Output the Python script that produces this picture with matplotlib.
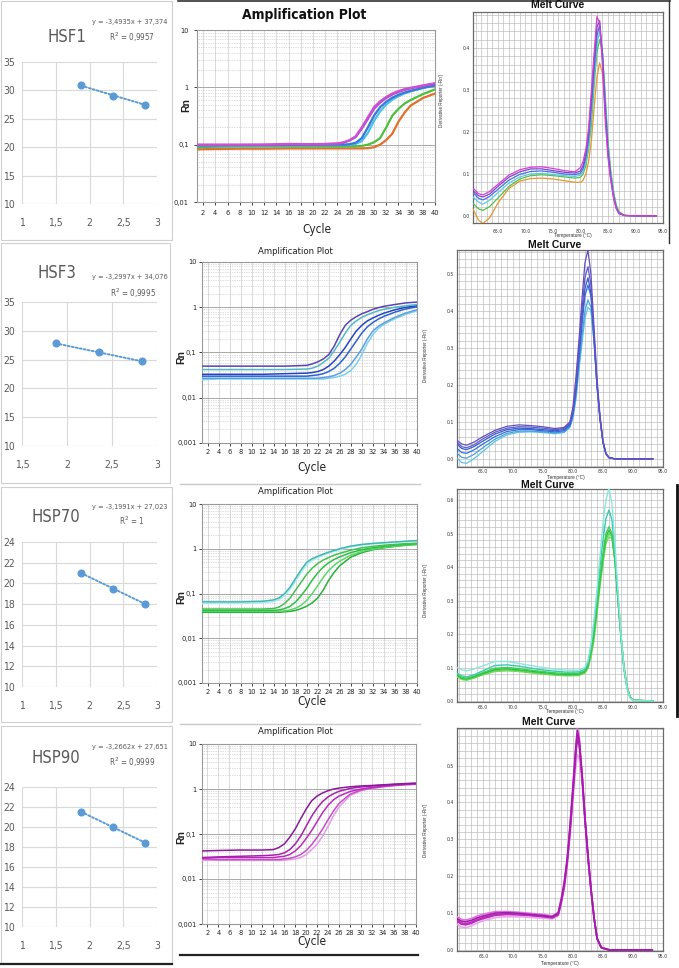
import numpy as np
import matplotlib
matplotlib.use('Agg')
import matplotlib.pyplot as plt
from matplotlib import font_manager
from matplotlib.ticker import FixedLocator, MultipleLocator, NullFormatter
from matplotlib.lines import Line2D
from matplotlib.patches import Rectangle

W, H = 679, 968

installed = {f.name for f in font_manager.fontManager.ttflist}
if 'Liberation Sans Narrow' in installed:
    NARROW = dict(family='Liberation Sans Narrow')
else:
    NARROW = dict(family='DejaVu Sans', stretch='condensed')
ARIAL = 'Liberation Sans' if 'Liberation Sans' in installed else 'DejaVu Sans'

# ---------------- standard curves ----------------
genes = ['HSF1', 'HSF3', 'HSP70', 'HSP90']
std_x = [1.875, 2.352, 2.829]
std_ct = [
    [30.9, 29.0, 27.5],
    [27.8, 26.3, 24.7],
    [21.0, 19.5, 18.0],
    [21.5, 20.0, 18.4],
]
std_eq = ['y = -3,4935x + 37,374', 'y = -3,2997x + 34,076',
          'y = -3,1991x + 27,023', 'y = -3,2662x + 27,651']
std_r2 = ['R$^2$ = 0,9957', 'R$^2$ = 0,9995', 'R$^2$ = 1', 'R$^2$ = 0,9999']
std_xticks = [[1, 1.5, 2, 2.5, 3], [1.5, 2, 2.5, 3], [1, 1.5, 2, 2.5, 3], [1, 1.5, 2, 2.5, 3]]
std_yticks = [[10, 15, 20, 25, 30, 35], [10, 15, 20, 25, 30, 35],
              [10, 12, 14, 16, 18, 20, 22, 24], [10, 12, 14, 16, 18, 20, 22, 24]]

# ---------------- amplification plots (Rn per cycle) ----------------
amp1_cycles = [1, 4, 8, 12, 16, 20, 22, 24, 25, 26, 27, 28, 29, 30, 31, 32, 33, 34, 35, 36, 38, 40]
amp1_rn = [
    [0.1, 0.1, 0.1, 0.1, 0.103, 0.102, 0.103, 0.105, 0.11, 0.12, 0.14, 0.2, 0.3, 0.45, 0.57, 0.68, 0.78, 0.86, 0.93, 0.98, 1.08, 1.18],
    [0.099, 0.099, 0.099, 0.1, 0.101, 0.101, 0.102, 0.104, 0.108, 0.118, 0.135, 0.19, 0.28, 0.42, 0.54, 0.65, 0.75, 0.83, 0.9, 0.96, 1.06, 1.16],
    [0.097, 0.097, 0.098, 0.098, 0.099, 0.099, 0.1, 0.1, 0.1, 0.102, 0.108, 0.13, 0.2, 0.32, 0.45, 0.56, 0.66, 0.74, 0.81, 0.87, 0.98, 1.08],
    [0.095, 0.095, 0.096, 0.096, 0.097, 0.097, 0.098, 0.098, 0.098, 0.099, 0.103, 0.115, 0.16, 0.26, 0.38, 0.5, 0.61, 0.7, 0.78, 0.85, 0.97, 1.07],
    [0.09, 0.092, 0.093, 0.093, 0.093, 0.093, 0.093, 0.093, 0.093, 0.094, 0.094, 0.095, 0.1, 0.11, 0.13, 0.2, 0.32, 0.42, 0.52, 0.6, 0.76, 0.92],
    [0.083, 0.084, 0.085, 0.085, 0.086, 0.086, 0.086, 0.086, 0.086, 0.086, 0.086, 0.086, 0.087, 0.09, 0.1, 0.12, 0.155, 0.25, 0.36, 0.48, 0.65, 0.78],
]
amp1_colors = ['#cf4fcf', '#a050d8', '#3a78d8', '#48c0e8', '#4cbf3c', '#e0702a']

amp2_cycles = [1, 4, 8, 12, 16, 20, 21, 22, 23, 24, 25, 26, 27, 28, 29, 30, 31, 32, 33, 34, 36, 38, 40]
amp2_rn = [
    [0.05, 0.05, 0.05, 0.05, 0.05, 0.052, 0.056, 0.062, 0.072, 0.09, 0.14, 0.25, 0.4, 0.52, 0.62, 0.72, 0.8, 0.9, 0.98, 1.05, 1.15, 1.25, 1.3],
    [0.042, 0.042, 0.042, 0.042, 0.042, 0.043, 0.045, 0.05, 0.06, 0.075, 0.11, 0.17, 0.27, 0.4, 0.5, 0.6, 0.68, 0.76, 0.84, 0.9, 1.0, 1.08, 1.15],
    [0.033, 0.033, 0.033, 0.033, 0.034, 0.035, 0.036, 0.038, 0.042, 0.05, 0.065, 0.09, 0.13, 0.2, 0.3, 0.4, 0.5, 0.58, 0.66, 0.74, 0.88, 1.0, 1.08],
    [0.03, 0.03, 0.03, 0.03, 0.03, 0.03, 0.031, 0.032, 0.034, 0.038, 0.045, 0.058, 0.08, 0.12, 0.18, 0.27, 0.37, 0.46, 0.55, 0.63, 0.78, 0.92, 1.02],
    [0.027, 0.027, 0.027, 0.027, 0.027, 0.027, 0.027, 0.027, 0.028, 0.029, 0.031, 0.035, 0.042, 0.055, 0.08, 0.12, 0.2, 0.3, 0.38, 0.45, 0.6, 0.75, 0.88],
    [0.025, 0.026, 0.026, 0.026, 0.026, 0.026, 0.026, 0.026, 0.026, 0.027, 0.028, 0.03, 0.033, 0.04, 0.055, 0.09, 0.16, 0.25, 0.34, 0.42, 0.56, 0.7, 0.84],
]
amp2_colors = ['#5b44b0', '#52b8c8', '#2246c0', '#2e62d0', '#5a9fe0', '#7dd0f0']

amp3_cycles = [1, 4, 8, 12, 14, 15, 16, 17, 18, 19, 20, 21, 22, 23, 24, 25, 26, 28, 30, 32, 34, 36, 38, 40]
amp3_rn = [
    [0.065, 0.065, 0.065, 0.067, 0.072, 0.08, 0.1, 0.14, 0.22, 0.34, 0.5, 0.6, 0.68, 0.76, 0.84, 0.92, 1.0, 1.15, 1.25, 1.32, 1.37, 1.42, 1.47, 1.52],
    [0.06, 0.06, 0.06, 0.062, 0.066, 0.073, 0.09, 0.125, 0.19, 0.3, 0.44, 0.55, 0.64, 0.72, 0.8, 0.88, 0.95, 1.1, 1.2, 1.28, 1.34, 1.4, 1.45, 1.5],
    [0.045, 0.045, 0.045, 0.045, 0.046, 0.05, 0.06, 0.08, 0.12, 0.18, 0.27, 0.37, 0.47, 0.56, 0.64, 0.72, 0.79, 0.93, 1.05, 1.13, 1.2, 1.25, 1.3, 1.33],
    [0.042, 0.042, 0.042, 0.042, 0.042, 0.043, 0.046, 0.052, 0.065, 0.09, 0.13, 0.2, 0.29, 0.39, 0.49, 0.58, 0.66, 0.82, 0.95, 1.05, 1.13, 1.2, 1.25, 1.3],
    [0.04, 0.04, 0.04, 0.04, 0.04, 0.04, 0.041, 0.043, 0.047, 0.055, 0.07, 0.1, 0.15, 0.23, 0.33, 0.43, 0.53, 0.72, 0.87, 0.98, 1.07, 1.14, 1.2, 1.25],
    [0.038, 0.038, 0.038, 0.038, 0.038, 0.038, 0.039, 0.04, 0.042, 0.046, 0.052, 0.062, 0.08, 0.12, 0.2, 0.3, 0.42, 0.65, 0.82, 0.95, 1.05, 1.13, 1.2, 1.25],
]
amp3_colors = ['#3cb8b0', '#a8ecf2', '#44c050', '#2cc040', '#58d868', '#28b038']

amp4_cycles = [1, 4, 8, 12, 14, 15, 16, 17, 18, 19, 20, 21, 22, 23, 24, 25, 26, 28, 30, 32, 34, 36, 38, 40]
amp4_rn = [
    [0.042, 0.043, 0.044, 0.044, 0.045, 0.05, 0.06, 0.085, 0.13, 0.22, 0.36, 0.55, 0.7, 0.82, 0.92, 1.0, 1.05, 1.12, 1.17, 1.2, 1.24, 1.28, 1.32, 1.35],
    [0.03, 0.031, 0.032, 0.033, 0.034, 0.035, 0.038, 0.045, 0.06, 0.09, 0.15, 0.25, 0.38, 0.53, 0.67, 0.79, 0.89, 1.03, 1.11, 1.17, 1.22, 1.26, 1.3, 1.33],
    [0.029, 0.03, 0.03, 0.03, 0.03, 0.031, 0.032, 0.035, 0.042, 0.055, 0.08, 0.12, 0.19, 0.3, 0.44, 0.58, 0.7, 0.88, 1.0, 1.09, 1.16, 1.22, 1.27, 1.3],
    [0.028, 0.027, 0.027, 0.027, 0.027, 0.027, 0.028, 0.029, 0.031, 0.035, 0.043, 0.058, 0.085, 0.13, 0.21, 0.33, 0.48, 0.77, 0.95, 1.05, 1.13, 1.2, 1.25, 1.28],
    [0.026, 0.026, 0.026, 0.026, 0.026, 0.026, 0.026, 0.027, 0.028, 0.03, 0.035, 0.045, 0.06, 0.09, 0.15, 0.26, 0.4, 0.72, 0.92, 1.03, 1.11, 1.18, 1.23, 1.27],
]
amp4_colors = ['#8b1a9b', '#a81fb0', '#bb2abb', '#c84ccc', '#e49ae8']

# ---------------- melt curves (derivative reporter per temperature) ----------------
melt1_t = [60.5, 61.5, 62.3, 63.5, 65, 67, 69, 71, 73, 75, 77, 79, 80, 80.5, 81, 81.5, 82, 82.5, 83, 83.5,
           84, 84.5, 85, 85.5, 86, 86.5, 87, 88, 90, 93.8]
melt1_d = [
    [0.066, 0.053, 0.05, 0.058, 0.075, 0.097, 0.11, 0.116, 0.117, 0.113, 0.108, 0.105, 0.115, 0.13, 0.16, 0.21, 0.3, 0.39, 0.475, 0.46,
     0.36, 0.23, 0.14, 0.085, 0.045, 0.018, 0.005, 0.001, 0.0, 0.0],
    [0.06, 0.048, 0.045, 0.052, 0.07, 0.092, 0.105, 0.112, 0.112, 0.108, 0.104, 0.102, 0.107, 0.12, 0.15, 0.2, 0.28, 0.37, 0.45, 0.465,
     0.38, 0.25, 0.15, 0.09, 0.045, 0.018, 0.006, 0.001, 0.0, 0.0],
    [0.055, 0.042, 0.038, 0.046, 0.063, 0.085, 0.099, 0.106, 0.107, 0.104, 0.1, 0.098, 0.102, 0.113, 0.14, 0.185, 0.26, 0.35, 0.43, 0.455,
     0.39, 0.27, 0.16, 0.095, 0.05, 0.02, 0.007, 0.001, 0.0, 0.0],
    [0.045, 0.033, 0.028, 0.037, 0.055, 0.078, 0.093, 0.1, 0.101, 0.099, 0.096, 0.094, 0.097, 0.106, 0.13, 0.17, 0.24, 0.33, 0.41, 0.44,
     0.39, 0.28, 0.17, 0.1, 0.055, 0.022, 0.008, 0.001, 0.0, 0.0],
    [0.03, 0.017, 0.013, 0.022, 0.042, 0.07, 0.088, 0.096, 0.098, 0.096, 0.093, 0.09, 0.092, 0.1, 0.12, 0.16, 0.22, 0.31, 0.39, 0.42,
     0.39, 0.29, 0.18, 0.11, 0.06, 0.026, 0.01, 0.001, 0.0, 0.0],
    [0.016, -0.01, -0.018, -0.005, 0.03, 0.065, 0.083, 0.089, 0.09, 0.088, 0.084, 0.08, 0.08, 0.085, 0.1, 0.13, 0.18, 0.26, 0.33, 0.365,
     0.34, 0.26, 0.17, 0.1, 0.055, 0.025, 0.01, 0.001, 0.0, 0.0],
]
melt1_colors = ['#d63fd6', '#7a45c8', '#4a6fe0', '#5cc8e6', '#4cc24c', '#e8952e']

melt2_t = [60.7, 61.5, 62.3, 63.5, 65, 67, 69, 71, 73, 75, 77, 78.5, 79.5, 80, 80.5, 81, 81.5, 82, 82.5, 83,
           83.5, 84, 84.5, 85, 85.5, 86, 87, 90, 93.3]
melt2_d = [
    [0.05, 0.04, 0.037, 0.045, 0.06, 0.077, 0.088, 0.092, 0.09, 0.087, 0.082, 0.085, 0.1, 0.14, 0.22, 0.32, 0.43, 0.53, 0.565, 0.5,
     0.36, 0.22, 0.12, 0.05, 0.015, 0.004, 0.0, 0.0, 0.0],
    [0.045, 0.033, 0.03, 0.038, 0.054, 0.072, 0.083, 0.087, 0.086, 0.083, 0.079, 0.082, 0.097, 0.13, 0.2, 0.3, 0.4, 0.49, 0.52, 0.47,
     0.34, 0.21, 0.11, 0.045, 0.013, 0.003, 0.0, 0.0, 0.0],
    [0.04, 0.028, 0.025, 0.033, 0.048, 0.067, 0.079, 0.083, 0.082, 0.079, 0.076, 0.079, 0.094, 0.125, 0.19, 0.28, 0.38, 0.46, 0.49, 0.45,
     0.33, 0.2, 0.11, 0.045, 0.013, 0.003, 0.0, 0.0, 0.0],
    [0.028, 0.017, 0.015, 0.024, 0.04, 0.06, 0.074, 0.079, 0.079, 0.076, 0.073, 0.076, 0.09, 0.12, 0.18, 0.27, 0.36, 0.44, 0.47, 0.44,
     0.33, 0.2, 0.11, 0.045, 0.014, 0.003, 0.0, 0.0, 0.0],
    [0.015, 0.004, 0.002, 0.012, 0.03, 0.053, 0.069, 0.075, 0.075, 0.073, 0.07, 0.073, 0.087, 0.115, 0.17, 0.25, 0.33, 0.4, 0.43, 0.41,
     0.32, 0.2, 0.11, 0.046, 0.015, 0.004, 0.0, 0.0, 0.0],
    [0.002, -0.01, -0.012, 0.0, 0.02, 0.047, 0.065, 0.072, 0.073, 0.071, 0.068, 0.071, 0.085, 0.11, 0.16, 0.24, 0.31, 0.38, 0.41, 0.4,
     0.32, 0.2, 0.11, 0.047, 0.015, 0.004, 0.0, 0.0, 0.0],
]
melt2_colors = ['#6a4cc0', '#5560c8', '#3a5ad0', '#2f6fd8', '#4aa0e0', '#5cc4e8']

melt3_t = [60.7, 61.5, 62.3, 63.5, 65, 67, 69, 71, 73, 75, 77, 79, 81, 82, 82.5, 83, 83.5, 84, 84.5, 85,
           85.5, 86, 86.5, 87, 87.5, 88, 88.5, 89, 89.5, 90, 93.3]
melt3_d = [
    [0.1, 0.093, 0.09, 0.095, 0.105, 0.118, 0.118, 0.112, 0.106, 0.1, 0.095, 0.092, 0.092, 0.1, 0.12, 0.17, 0.24, 0.33, 0.43, 0.53,
     0.6, 0.635, 0.59, 0.47, 0.33, 0.2, 0.1, 0.04, 0.01, 0.002, 0.0],
    [0.083, 0.075, 0.072, 0.078, 0.09, 0.106, 0.108, 0.104, 0.098, 0.093, 0.089, 0.086, 0.087, 0.095, 0.115, 0.16, 0.23, 0.31, 0.4, 0.48,
     0.545, 0.57, 0.54, 0.44, 0.31, 0.19, 0.095, 0.04, 0.01, 0.002, 0.0],
    [0.08, 0.07, 0.068, 0.074, 0.085, 0.098, 0.1, 0.097, 0.092, 0.088, 0.084, 0.082, 0.083, 0.09, 0.11, 0.15, 0.21, 0.29, 0.37, 0.44,
     0.5, 0.52, 0.5, 0.42, 0.3, 0.19, 0.095, 0.04, 0.011, 0.002, 0.0],
    [0.078, 0.068, 0.066, 0.072, 0.082, 0.094, 0.096, 0.093, 0.089, 0.085, 0.081, 0.079, 0.08, 0.088, 0.105, 0.145, 0.2, 0.28, 0.36, 0.43,
     0.49, 0.51, 0.495, 0.42, 0.3, 0.19, 0.1, 0.042, 0.012, 0.002, 0.0],
    [0.075, 0.066, 0.064, 0.07, 0.08, 0.091, 0.093, 0.09, 0.086, 0.082, 0.079, 0.077, 0.078, 0.086, 0.1, 0.14, 0.19, 0.27, 0.35, 0.42,
     0.48, 0.5, 0.49, 0.42, 0.31, 0.2, 0.1, 0.045, 0.013, 0.003, 0.0],
    [0.072, 0.064, 0.062, 0.068, 0.078, 0.088, 0.09, 0.088, 0.084, 0.08, 0.077, 0.075, 0.076, 0.083, 0.097, 0.13, 0.18, 0.26, 0.34, 0.41,
     0.47, 0.49, 0.485, 0.42, 0.31, 0.2, 0.105, 0.047, 0.014, 0.003, 0.0],
]
melt3_colors = ['#8ae6dc', '#38c8b0', '#3ccf50', '#28c03c', '#5ad860', '#80d850']

melt4_t = [60.6, 61.3, 62, 63, 64, 65, 67, 69, 71, 73, 75, 76.5, 77.5, 78, 78.5, 79, 79.5, 80, 80.4, 80.7,
           81, 81.5, 82, 82.5, 83, 83.5, 84, 84.7, 86, 93.2]
melt4_d = [
    [0.085, 0.078, 0.076, 0.08, 0.087, 0.092, 0.1, 0.101, 0.099, 0.096, 0.093, 0.09, 0.1, 0.135, 0.18, 0.245, 0.34, 0.45, 0.54, 0.595,
     0.57, 0.47, 0.35, 0.25, 0.16, 0.085, 0.03, 0.006, 0.0, 0.0],
    [0.08, 0.073, 0.071, 0.075, 0.082, 0.088, 0.096, 0.098, 0.097, 0.094, 0.091, 0.088, 0.097, 0.13, 0.175, 0.24, 0.33, 0.44, 0.53, 0.585,
     0.565, 0.47, 0.35, 0.25, 0.16, 0.085, 0.03, 0.006, 0.0, 0.0],
    [0.078, 0.07, 0.068, 0.072, 0.08, 0.085, 0.094, 0.096, 0.095, 0.093, 0.09, 0.087, 0.095, 0.128, 0.17, 0.235, 0.325, 0.43, 0.52, 0.575,
     0.555, 0.465, 0.345, 0.245, 0.16, 0.085, 0.03, 0.006, 0.0, 0.0],
    [0.09, 0.083, 0.081, 0.085, 0.092, 0.097, 0.104, 0.104, 0.102, 0.099, 0.096, 0.092, 0.102, 0.14, 0.185, 0.25, 0.345, 0.455, 0.545, 0.6,
     0.58, 0.48, 0.36, 0.255, 0.165, 0.088, 0.032, 0.007, 0.0, 0.0],
    [0.07, 0.062, 0.06, 0.065, 0.073, 0.079, 0.088, 0.09, 0.09, 0.088, 0.086, 0.084, 0.092, 0.125, 0.165, 0.225, 0.31, 0.41, 0.49, 0.53,
     0.52, 0.45, 0.34, 0.24, 0.155, 0.085, 0.032, 0.007, 0.0, 0.0],
]
melt4_colors = ['#a41aac', '#c02cc0', '#b820b8', '#e070e0', '#e8a4ec']

melt_yticks = [[0.0, 0.1, 0.2, 0.3, 0.4], [0.0, 0.1, 0.2, 0.3, 0.4, 0.5],
               [0.0, 0.1, 0.2, 0.3, 0.4, 0.5, 0.6], [0.0, 0.1, 0.2, 0.3, 0.4, 0.5]]
melt_xticks = [65, 70, 75, 80, 85, 90, 95]

# ---------------- layout (pixels) ----------------
std_boxes = [(22, 62, 157, 204), (22, 302, 157, 446), (22, 542, 157, 687), (22, 787, 157, 927)]
amp_boxes = [(197, 30, 435, 202), (202, 262, 417, 443), (202, 504, 417, 683), (202, 744, 416, 924)]
melt_boxes = [(473, 12, 663, 223), (457, 250, 663, 467), (457, 489, 663, 702), (457, 728, 663, 951)]

fig = plt.figure(figsize=(W / 100, H / 100), dpi=100)
fig.patch.set_facecolor('white')


def rect(x0, y0, x1, y1):
    return [x0 / W, 1 - y1 / H, (x1 - x0) / W, (y1 - y0) / H]


def ftext(x, y, s, **kw):
    fig.text(x / W, 1 - y / H, s, ha=kw.pop('ha', 'center'), va=kw.pop('va', 'center'), **kw)


def fline(x0, y0, x1, y1, **kw):
    fig.add_artist(Line2D([x0 / W, x1 / W], [1 - y0 / H, 1 - y1 / H], transform=fig.transFigure, **kw))


def comma(v):
    return ('%g' % v).replace('.', ',')


# panel frames
for (x0, y0, x1, y1) in [(0.5, 0.5, 172, 240), (0.5, 243, 170, 483), (0.5, 487, 172, 722), (0.5, 726, 172, 963)]:
    fig.add_artist(Rectangle((x0 / W, 1 - y1 / H), (x1 - x0) / W, (y1 - y0) / H,
                             transform=fig.transFigure, fill=False, ec='#cfcfcf', lw=0.8))
fline(0, 963.5, 172, 963.5, color='#222222', lw=1.6)
fline(180, 955, 418, 955, color='#222222', lw=1.6)
fline(180, 484, 420, 484, color='#c8c8c8', lw=1.0)
fline(180, 724, 420, 724, color='#c8c8c8', lw=1.0)
fline(178, 0.6, 670, 0.6, color='#333333', lw=1.2)
fline(669, 0, 669, 243, color='#333333', lw=1.0)
fline(677, 485, 677, 716, color='#111111', lw=2.0)

# ---------------- standard curves ----------------
std_blue = '#5b9bd5'
title_pos = [(67, 37), (57, 273), (56, 517), (56, 758)]
eq_pos = [(130, 22), (130, 277), (130, 507), (130, 747)]
r2_pos = [(132, 37), (133, 293), (132, 521), (132, 762)]
for i in range(4):
    ax = fig.add_axes(rect(*std_boxes[i]))
    x = np.array(std_x)
    y = np.array(std_ct[i])
    k, b = np.polyfit(x, y, 1)
    xs = np.array([x.min(), x.max()])
    ax.plot(xs, k * xs + b, ls=(0, (1, 1.1)), color=std_blue, lw=1.4, dash_capstyle='round', zorder=3)
    ax.plot(x, y, 'o', color=std_blue, ms=4.8, zorder=4)
    ax.set_xlim(std_xticks[i][0], std_xticks[i][-1])
    ax.set_ylim(std_yticks[i][0], std_yticks[i][-1])
    ax.set_xticks(std_xticks[i])
    ax.set_yticks(std_yticks[i])
    ax.set_xticklabels([comma(v) for v in std_xticks[i]], **NARROW)
    ax.set_yticklabels([comma(v) for v in std_yticks[i]], **NARROW)
    for s in ax.spines.values():
        s.set_visible(False)
    ax.grid(True, color='#d9d9d9', lw=0.8)
    ax.set_axisbelow(True)
    ax.tick_params(length=0, labelsize=7.5, colors='#595959')
    ax.tick_params(axis='x', pad=10)
    ax.tick_params(axis='y', pad=5)
    ftext(*title_pos[i], genes[i], fontsize=12, color='#595959', **NARROW)
    ftext(*eq_pos[i], std_eq[i], fontsize=5.3, color='#595959', **NARROW)
    ftext(*r2_pos[i], std_r2[i], fontsize=5.8, color='#595959', **NARROW)

# ---------------- amplification plots ----------------
amp_cycles = [amp1_cycles, amp2_cycles, amp3_cycles, amp4_cycles]
amp_rn = [amp1_rn, amp2_rn, amp3_rn, amp4_rn]
amp_colors = [amp1_colors, amp2_colors, amp3_colors, amp4_colors]
amp_title_pos = [(304, 15), (295, 252), (295, 492), (295, 732)]
amp_cycle_pos = [(317, 229), (312, 467), (312, 702), (312, 941)]
rn_pos = [(186, 105), (181, 357), (181, 597), (181, 837)]
deriv_pos = [(442, 100), (425, 355), (425, 590), (425, 830)]
for i in range(4):
    ax = fig.add_axes(rect(*amp_boxes[i]))
    ax.set_yscale('log')
    lw = 1.6 if i == 0 else 1.1
    for vals, c in zip(amp_rn[i][::-1], amp_colors[i][::-1]):
        ax.plot(amp_cycles[i], vals, color=c, lw=lw, zorder=3)
    ylow = 0.01 if i == 0 else 0.001
    ax.set_ylim(ylow, 10)
    ax.set_xlim(1, 40)
    xt = list(range(2, 41, 2))
    ax.xaxis.set_major_locator(FixedLocator(xt))
    ax.set_xticklabels([str(v) for v in xt], **NARROW)
    decades = [d for d in [0.001, 0.01, 0.1, 1, 10] if d >= ylow]
    ax.yaxis.set_major_locator(FixedLocator(decades))
    ax.set_yticklabels([comma(d) for d in decades], **NARROW)
    minors = [m * d for d in decades[:-1] for m in range(2, 10)]
    ax.yaxis.set_minor_locator(FixedLocator(minors))
    ax.yaxis.set_minor_formatter(NullFormatter())
    ax.grid(True, axis='y', which='major', color='#a8a8a8', lw=0.7)
    ax.grid(True, axis='y', which='minor', color='#bdbdbd', lw=0.5, ls=(0, (1, 1.5)))
    ax.grid(True, axis='x', which='major', color='#d4d4d4', lw=0.6)
    ax.set_axisbelow(True)
    for s in ax.spines.values():
        s.set_color('#9a9a9a')
        s.set_linewidth(0.8)
    ax.tick_params(which='major', length=2, width=0.6, labelsize=5.3, colors='#222222',
                   pad=4 if i == 0 else 2)
    ax.tick_params(which='minor', length=0)
    if i == 0:
        ftext(*amp_title_pos[i], 'Amplification Plot', fontsize=10, weight='bold', color='#111111', **NARROW)
    else:
        ftext(*amp_title_pos[i], 'Amplification Plot', fontsize=6.8, color='#222222', **NARROW)
    ftext(*amp_cycle_pos[i], 'Cycle', fontsize=8.5, color='#222222', **NARROW)
    ftext(*rn_pos[i], 'Rn', fontsize=7.5, weight='bold', rotation=90, color='#222222', family=ARIAL)
    ftext(*deriv_pos[i], "Derivative Reporter (-Rn')", fontsize=3.3, rotation=90, color='#333333', family=ARIAL)

# ---------------- melt curves ----------------
melt_t = [melt1_t, melt2_t, melt3_t, melt4_t]
melt_d = [melt1_d, melt2_d, melt3_d, melt4_d]
melt_colors = [melt1_colors, melt2_colors, melt3_colors, melt4_colors]
melt_ylim = [(-0.017, 0.486), (-0.022, 0.565), (-0.003, 0.633), (-0.003, 0.602)]
melt_xlim = [(60.5, 95), (60.7, 95), (60.7, 95), (60.6, 95)]
melt_lw = [0.9, 0.9, 1.0, 1.2]
melt_title_pos = [(558, 5), (555, 245), (548, 485), (549, 722)]
temp_pos = [(573, 235), (566, 478), (565, 712), (560, 964)]
for i in range(4):
    ax = fig.add_axes(rect(*melt_boxes[i]))
    for vals, c in zip(melt_d[i][::-1], melt_colors[i][::-1]):
        ax.plot(melt_t[i], vals, color=c, lw=melt_lw[i], zorder=3)
    ax.set_xlim(*melt_xlim[i])
    ax.set_ylim(*melt_ylim[i])
    ax.xaxis.set_major_locator(FixedLocator(melt_xticks))
    ax.set_xticklabels(['%.1f' % v for v in melt_xticks])
    ax.yaxis.set_major_locator(FixedLocator(melt_yticks[i]))
    ax.set_yticklabels(['%.1f' % v for v in melt_yticks[i]])
    ax.xaxis.set_minor_locator(MultipleLocator(1))
    ax.yaxis.set_minor_locator(MultipleLocator(0.02))
    ax.grid(True, which='both', color='#b8b8b8', lw=0.45)
    ax.set_axisbelow(True)
    for s in ax.spines.values():
        s.set_color('#6a6a6a')
        s.set_linewidth(0.9)
    ax.tick_params(which='both', length=0, labelsize=3.3, colors='#333333', pad=2)
    if i == 0:
        ax.tick_params(axis='x', pad=4)
    if i == 1:
        ax.tick_params(axis='x', pad=1.2)
    ftext(*melt_title_pos[i], 'Melt Curve', fontsize=7.5, weight='bold', color='#111111', family=ARIAL)
    ftext(*temp_pos[i], 'Temperature (°C)', fontsize=3.5, color='#333333', family=ARIAL)

fig.savefig('out.png', dpi=100, facecolor='white')
